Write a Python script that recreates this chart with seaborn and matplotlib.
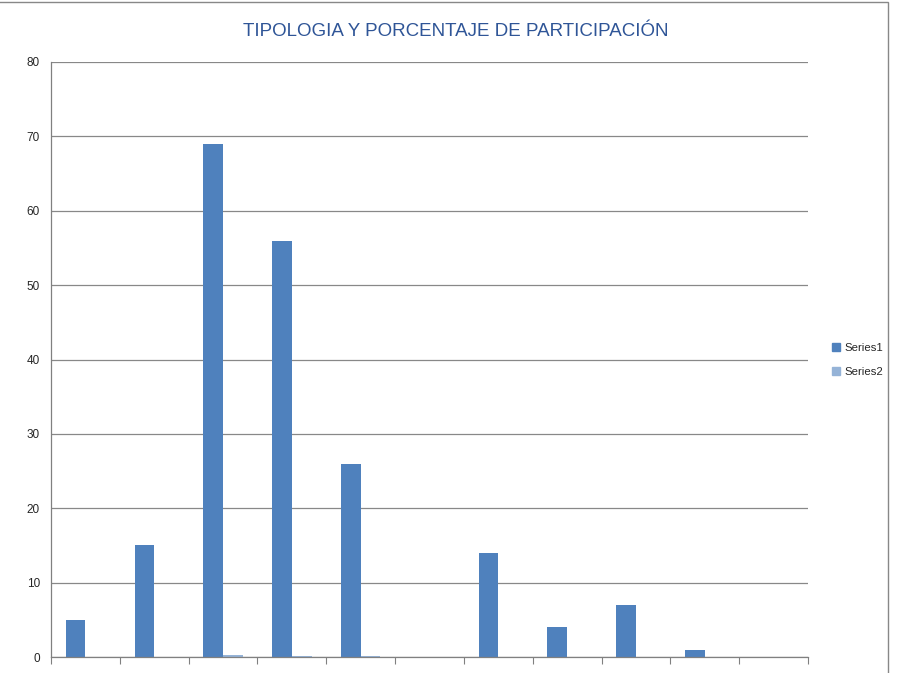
import pandas as pd
import matplotlib.pyplot as plt
import matplotlib.patches as mpatches
import seaborn as sns

categories = ['1', '2', '3', '4', '5', '6', '7', '8', '9', '10', '11']
series1 = [5, 15, 69, 56, 26, 0, 14, 4, 7, 1, 0]
series2 = [0, 0, 0.3, 0.2, 0.1, 0, 0, 0, 0, 0, 0]
series_names = ['Series1', 'Series2']
colors = ['#4F81BD', '#95B3D7']

df = pd.DataFrame({
    'cat': categories * 2,
    'value': series1 + series2,
    'serie': ['Series1'] * len(categories) + ['Series2'] * len(categories),
})

sns.set_style('white')
plt.rcParams['font.family'] = ['Liberation Sans', 'DejaVu Sans']

fig = plt.figure(figsize=(8.98, 6.73), dpi=100)
ax = fig.add_axes([51 / 898, 16 / 673, (808 - 51) / 898, (657 - 62) / 673])

sns.barplot(data=df, x='cat', y='value', hue='serie', palette=colors,
            width=2 / 3.5, ax=ax, legend=False, saturation=1,
            edgecolor='none')

ax.set_ylim(0, 80)
ax.set_xlim(-0.5, len(categories) - 0.5)
ax.set_yticks(range(0, 81, 10))
ax.tick_params(axis='y', labelsize=8.5, length=4, color='#808080', pad=4)
ax.yaxis.grid(True, color='#888888', linewidth=0.9)
ax.set_axisbelow(True)

ax.set_xticks([i - 0.5 for i in range(len(categories) + 1)])
ax.set_xticklabels([])
ax.tick_params(axis='x', length=5, color='#808080', direction='out', bottom=True)
ax.set_xlabel('')
ax.set_ylabel('')

for side in ['top', 'right']:
    ax.spines[side].set_visible(False)
for side in ['left', 'bottom']:
    ax.spines[side].set_color('#808080')
    ax.spines[side].set_linewidth(0.9)

fig.text(456 / 898, 1 - 31 / 673, 'TIPOLOGIA Y PORCENTAJE DE PARTICIPACIÓN',
         ha='center', va='center', fontsize=13.5, color='#2F5597')

handles = [mpatches.Patch(color=c, label=n) for c, n in zip(colors, series_names)]
fig.legend(handles=handles, loc='center left', bbox_to_anchor=(822 / 898, 1 - 360 / 673),
           frameon=False, fontsize=8.2, handlelength=0.7, handleheight=0.7,
           handletextpad=0.4, labelspacing=1.3)

border = mpatches.Rectangle((-0.01, -0.01), 888 / 898 + 0.01, 1 - 2 / 673 + 0.01,
                            transform=fig.transFigure, fill=False,
                            edgecolor='#888888', linewidth=1)
fig.patches.append(border)

fig.savefig('out.png', dpi=100)
